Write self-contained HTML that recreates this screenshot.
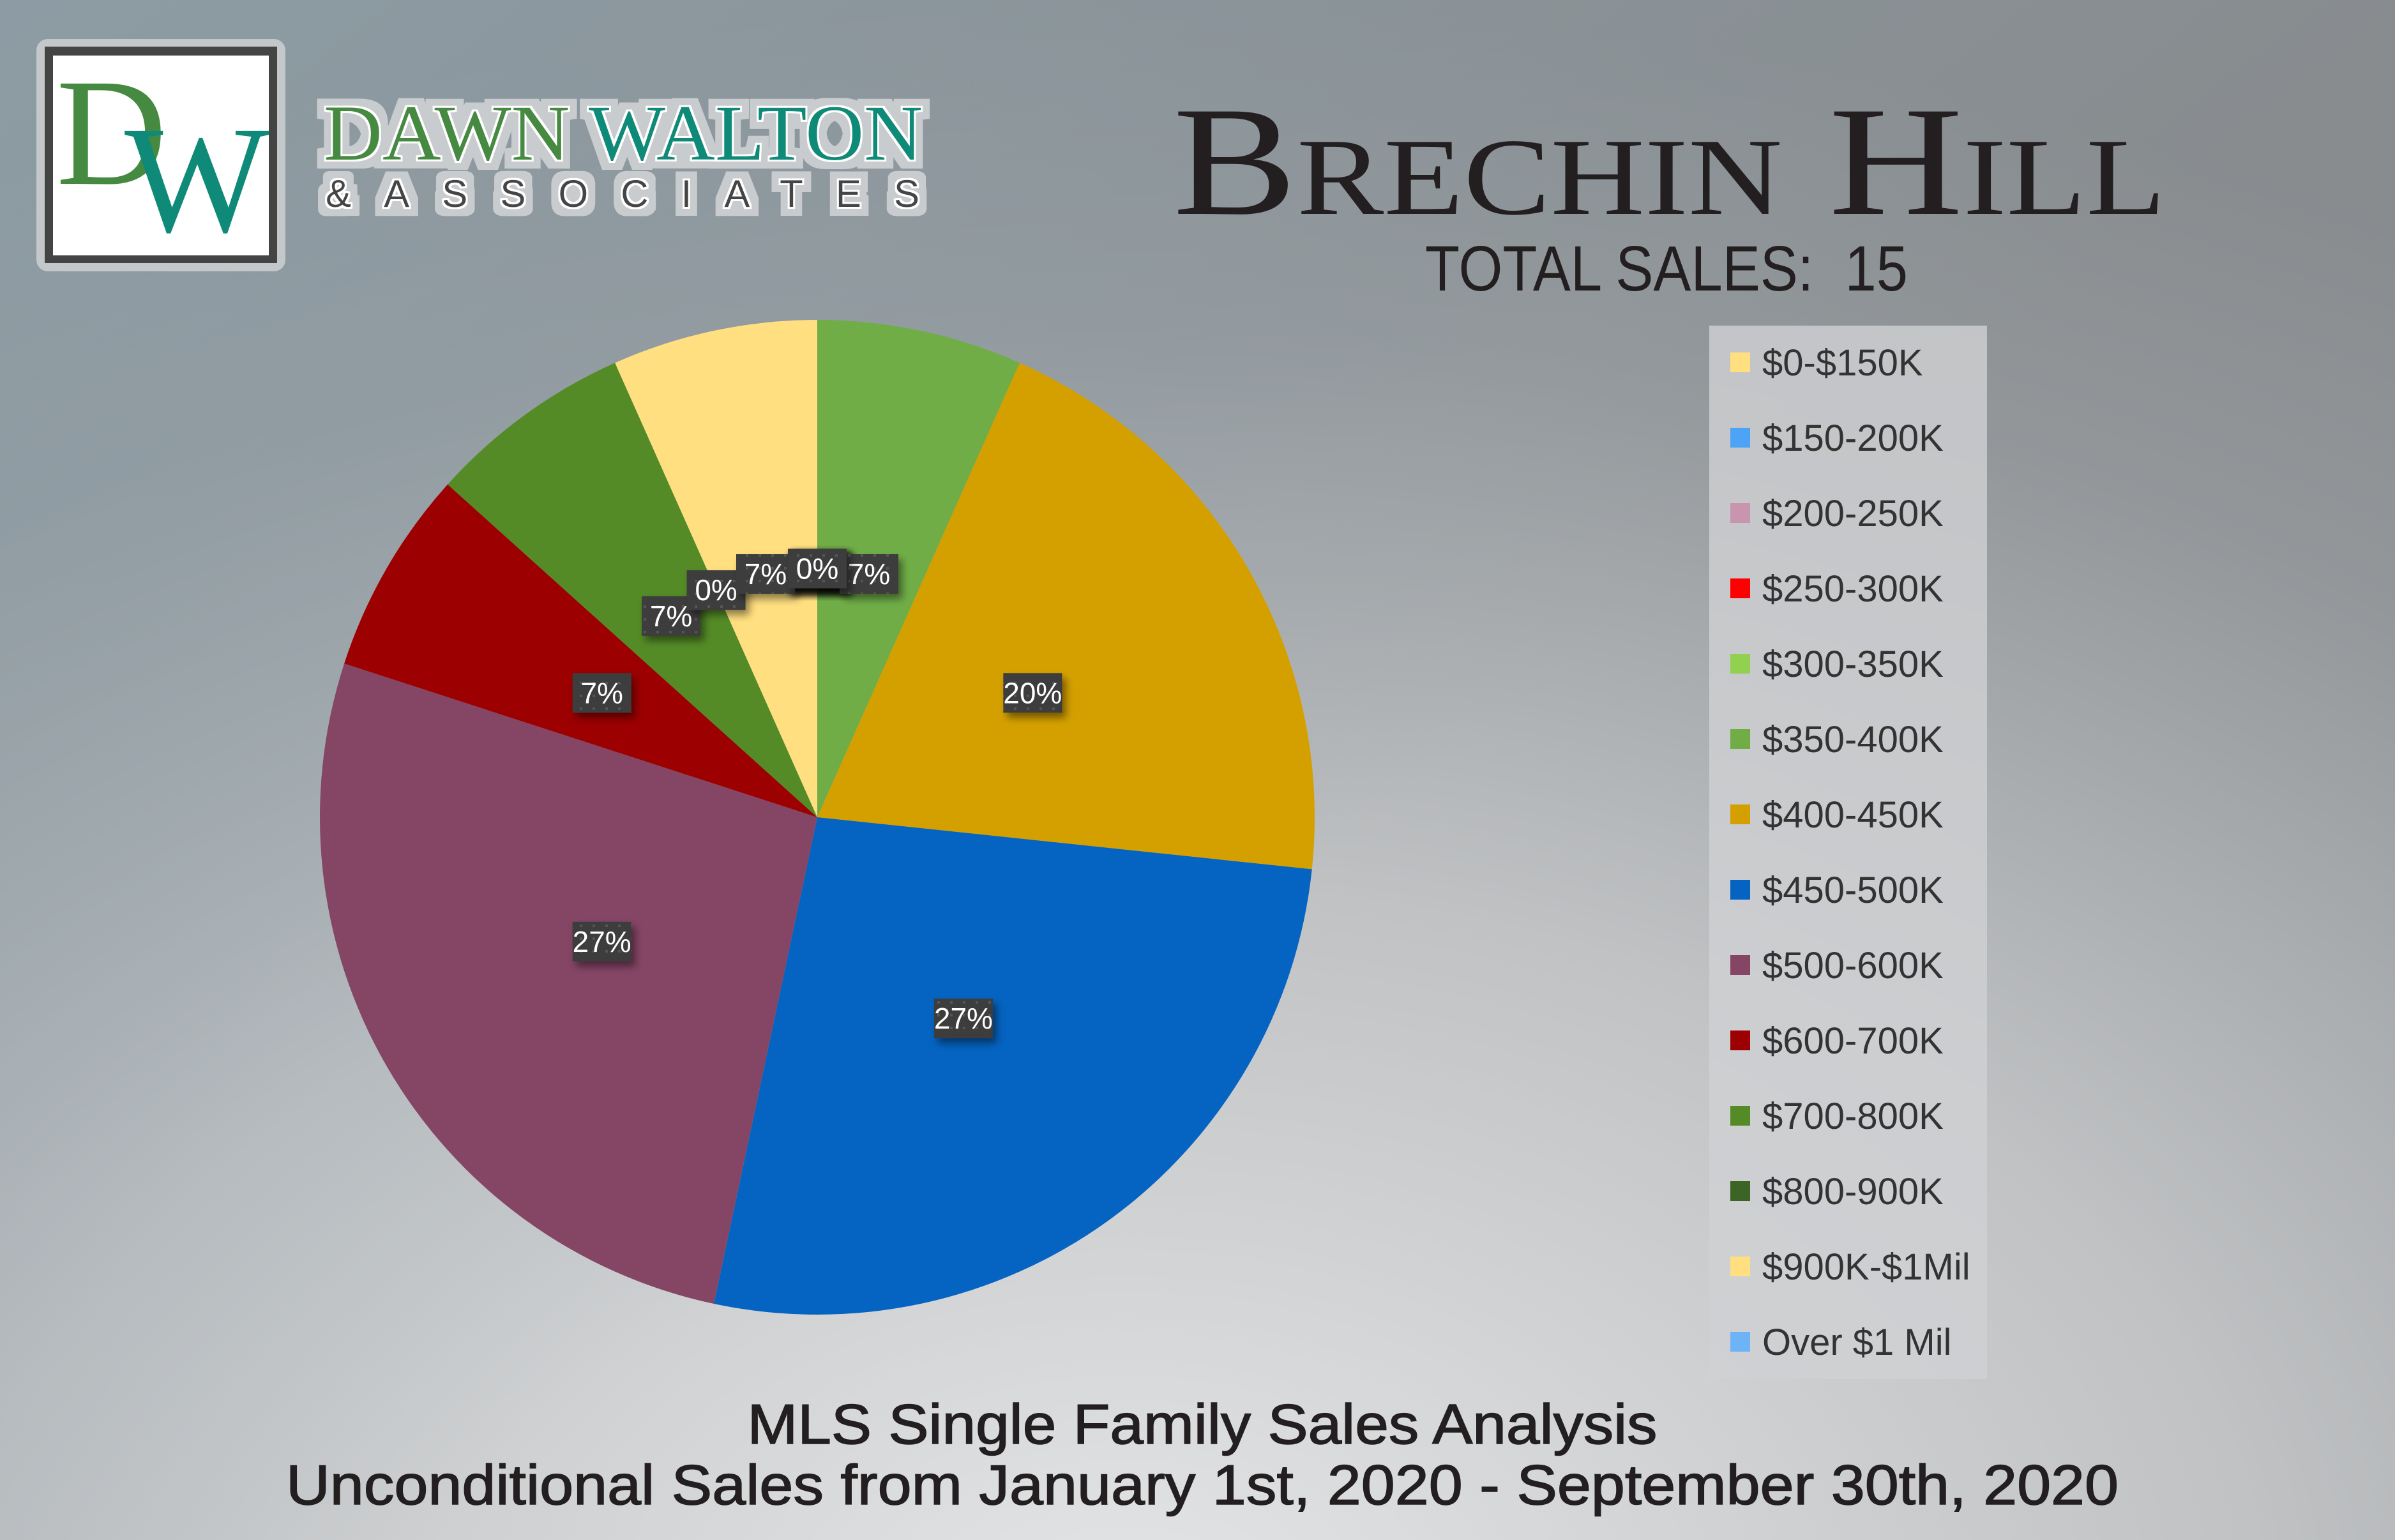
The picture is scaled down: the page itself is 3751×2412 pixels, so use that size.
<!DOCTYPE html>
<html><head><meta charset="utf-8"><style>
html,body{margin:0;padding:0;width:3751px;height:2412px;overflow:hidden}
svg{display:block}
</style></head><body>
<svg id="chart" width="3751" height="2412" viewBox="0 0 3751 2412" xmlns="http://www.w3.org/2000/svg">
<defs>
<radialGradient id="bg" cx="0.47" cy="1.05" r="1.05" fx="0.47" fy="1.05">
<stop offset="0" stop-color="#e4e5e6"/>
<stop offset="0.45" stop-color="#c0c2c4"/>
<stop offset="0.8" stop-color="#93979a"/>
<stop offset="1" stop-color="#888c8f"/>
</radialGradient>
<linearGradient id="tl" x1="0" y1="0" x2="0.6" y2="0.5">
<stop offset="0" stop-color="#8fa3ad" stop-opacity="0.7"/>
<stop offset="1" stop-color="#8fa3ad" stop-opacity="0"/>
</linearGradient>
<pattern id="dots" width="20" height="20" patternUnits="userSpaceOnUse">
<rect width="20" height="20" fill="#3c3c3c"/><rect x="8" y="8" width="4" height="4" fill="#555"/>
</pattern>
<filter id="sh" x="-20%" y="-20%" width="150%" height="150%"><feDropShadow dx="6" dy="8" stdDeviation="6" flood-color="#000" flood-opacity="0.45"/></filter>
<filter id="glow" x="-5%" y="-20%" width="110%" height="140%"><feMorphology operator="dilate" radius="14" in="SourceAlpha" result="d"/><feFlood flood-color="#c9ccce"/><feComposite in2="d" operator="in" result="g"/><feMorphology operator="dilate" radius="3" in="SourceAlpha" result="d2"/><feFlood flood-color="#ffffff"/><feComposite in2="d2" operator="in" result="w"/><feMerge><feMergeNode in="g"/><feMergeNode in="w"/><feMergeNode in="SourceGraphic"/></feMerge></filter>
</defs>
<rect width="3751" height="2412" fill="url(#bg)"/>
<rect width="3751" height="2412" fill="url(#tl)"/>
<g>
<rect x="57" y="61" width="390" height="364" rx="18" fill="#c5c8cb"/>
<rect x="70" y="73" width="364" height="339" fill="#444"/>
<rect x="83" y="87" width="338" height="313" fill="#fff"/>
<text x="88" y="288" font-family="Liberation Serif, serif" font-size="240" fill="#458a40">D</text>
<text x="195" y="362" font-family="Liberation Serif, serif" font-size="240" fill="#0f8a78">W</text>
</g>
<g filter="url(#glow)">
<text x="507" y="250" font-family="Liberation Serif, serif" font-size="124" textLength="938" lengthAdjust="spacingAndGlyphs"><tspan fill="#458a40">DAWN </tspan><tspan fill="#0f8a78">WALTON</tspan></text>
<text x="510" y="324" font-family="Liberation Sans, sans-serif" font-size="60" fill="#444" textLength="930" lengthAdjust="spacing">&amp;ASSOCIATES</text>
</g>
<text x="1837" y="335" font-family="Liberation Serif, serif" font-size="245" fill="#231f20" style="font-variant:small-caps" textLength="1555" lengthAdjust="spacingAndGlyphs">Brechin Hill</text>
<text x="2232" y="455" font-family="Liberation Sans, sans-serif" font-size="100" fill="#231f20" textLength="756" lengthAdjust="spacingAndGlyphs" xml:space="preserve">TOTAL SALES:  15</text>
<g id="pie"></g>
<g id="labels"></g>
<rect x="2677" y="510" width="435" height="1650" fill="#cfd1d3" fill-opacity="0.8"/>
<g id="legend"></g>
<text x="1883" y="2261" text-anchor="middle" font-family="Liberation Sans, sans-serif" font-size="88" fill="#231f20" stroke="#231f20" stroke-width="1.5" textLength="1425" lengthAdjust="spacingAndGlyphs">MLS Single Family Sales Analysis</text>
<text x="1883" y="2356" text-anchor="middle" font-family="Liberation Sans, sans-serif" font-size="88" fill="#231f20" stroke="#231f20" stroke-width="1.5" textLength="2870" lengthAdjust="spacingAndGlyphs">Unconditional Sales from January 1st, 2020 - September 30th, 2020</text>
</svg>
<script>
const categories = ["$0-$150K","$150-200K","$200-250K","$250-300K","$300-350K","$350-400K","$400-450K","$450-500K","$500-600K","$600-700K","$700-800K","$800-900K","$900K-$1Mil","Over $1 Mil"];
const salesCounts = [0,0,0,0,0,1,3,4,4,1,1,0,1,0];
const sliceColors = ["#FFDF80","#4DA3F5","#C995AE","#FF0000","#92D050","#70AD47","#D4A000","#0563C1","#854565","#9C0000","#548B26","#3B6425","#FFDF80","#6FB3F7"];
const legendColors = ["#FFDF80","#4DA3F5","#C995AE","#FF0000","#92D050","#70AD47","#D4A000","#0563C1","#854565","#9C0000","#548B26","#3B6425","#FFDF80","#6FB3F7"];
const NS="http://www.w3.org/2000/svg";
const cx=1280, cy=1280, R=779;
const total=salesCounts.reduce((a,b)=>a+b,0);
const pie=document.getElementById('pie'), labels=document.getElementById('labels'), legend=document.getElementById('legend');
function pt(a,r){return [cx+r*Math.sin(a), cy-r*Math.cos(a)];}
let acc=0;
const labelOrder=[];
salesCounts.forEach((v,i)=>{
  const a0=acc/total*2*Math.PI; acc+=v; const a1=acc/total*2*Math.PI;
  if(v>0){
    const [x0,y0]=pt(a0,R),[x1,y1]=pt(a1,R);
    const p=document.createElementNS(NS,'path');
    p.setAttribute('d',`M${cx},${cy} L${x0},${y0} A${R},${R} 0 ${(a1-a0)>Math.PI?1:0} 1 ${x1},${y1} Z`);
    p.setAttribute('fill',sliceColors[i]);
    
    
    pie.appendChild(p);
  }
  labelOrder.push({i, a:(a0+a1)/2, v});
});
labelOrder.forEach(o=>{
  const [x,y]=pt(o.a,R*0.5);
  const g=document.createElementNS(NS,'g');
  
  
  const r=document.createElementNS(NS,'rect');
  r.setAttribute('x',x-46);r.setAttribute('y',y-31);r.setAttribute('width',92);r.setAttribute('height',62);
  r.setAttribute('fill','url(#dots)');r.setAttribute('filter','url(#sh)');
  const t=document.createElementNS(NS,'text');
  t.setAttribute('x',x);t.setAttribute('y',y+16);t.setAttribute('text-anchor','middle');
  t.setAttribute('font-family','Liberation Sans, sans-serif');t.setAttribute('font-size','46');t.setAttribute('fill','#fff');
  t.textContent=Math.round(o.v/total*100)+'%';
  g.appendChild(r);g.appendChild(t);labels.appendChild(g);
});
categories.forEach((c,i)=>{
  const y=567+i*118;
  const g=document.createElementNS(NS,'g');
  
  
  const r=document.createElementNS(NS,'rect');
  r.setAttribute('x',2710);r.setAttribute('y',y-15);r.setAttribute('width',31);r.setAttribute('height',31);r.setAttribute('fill',legendColors[i]);
  const t=document.createElementNS(NS,'text');
  t.setAttribute('x',2760);t.setAttribute('y',y+21);
  t.setAttribute('font-family','Liberation Sans, sans-serif');t.setAttribute('font-size','58');t.setAttribute('fill','#333');
  t.textContent=c;
  g.appendChild(r);g.appendChild(t);legend.appendChild(g);
});
</script>
</body></html>
